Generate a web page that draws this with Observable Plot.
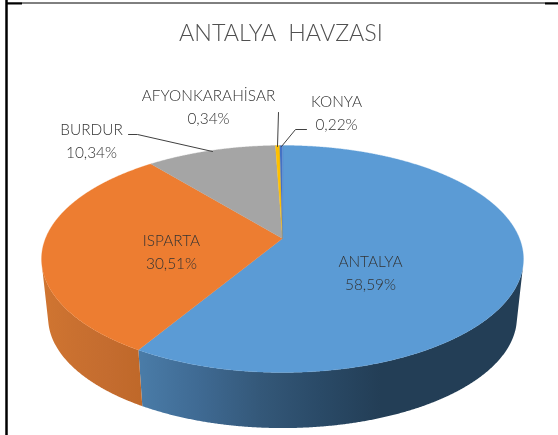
<!DOCTYPE html>
<html>
<head>
<meta charset="utf-8">
<style>html,body{margin:0;padding:0;background:#fff;overflow:hidden}svg{display:block;filter:blur(0.3px)}</style>
<script src="https://cdn.jsdelivr.net/npm/d3@7"></script>
<script src="https://cdn.jsdelivr.net/npm/@observablehq/plot@0.6"></script>
</head>
<body>
<script>
const chartTitle = "ANTALYA  HAVZASI";
const names = ["ANTALYA", "ISPARTA", "BURDUR", "AFYONKARAHİSAR", "KONYA"];
const shares = [58.59, 30.51, 10.34, 0.34, 0.22];
const shareLabels = ["58,59%", "30,51%", "10,34%", "0,34%", "0,22%"];
const topColors = ["#5b9bd5", "#ed7d31", "#a5a5a5", "#ffc000", "#4472c4"];
const labelX = [370, 171, 91, 208, 336];
const labelY = [262, 241, 130, 96, 102];
const lineGap = [22.5, 23, 23, 23, 23];
const leaders = [
  {name: "BURDUR", x: [128, 137, 212], y: [134, 134, 151]},
  {name: "AFYONKARAHİSAR", x: [278, 277], y: [112, 146]},
  {name: "KONYA", x: [306, 295, 281], y: [129, 129, 146]}
];

// perspective pie geometry
const cx = 282, cy = 238, W = 237, H = 109.8, k = 0.1806, vanishY = 2400, drop = 0.0274;
function topPoint(turn) {
  const u = Math.sin(2 * Math.PI * turn), v = Math.cos(2 * Math.PI * turn), s = 1 / (1 + k * v);
  return [cx + W * u * s, cy - H * v * s];
}
function lowPoint(turn) {
  const [x, y] = topPoint(turn);
  return [x + (cx - x) * drop, y + (vanishY - y) * drop];
}
// a wall point is visible when the extrusion runs outward from the rim
function facesViewer(turn) {
  const p = topPoint(turn), q = topPoint(turn + 0.0005), l = lowPoint(turn);
  return (q[0] - p[0]) * (l[1] - p[1]) - (q[1] - p[1]) * (l[0] - p[0]) < 0;
}
const total = d3.sum(shares);
const ends = Array.from(d3.cumsum(shares), d => d / total);
const starts = ends.map((d, i) => i ? ends[i - 1] : 0);

const wallGradients = [
  {id: "wall-blue", from: 138, to: 380, stops: ["#4a7ca8", "#3f6a93", "#345879", "#2a4a67", "#233e56"]},
  {id: "wall-orange", from: 42, to: 141, stops: ["#d07531", "#c97030", "#c46c2f", "#bf6829"]}
];
const wallFill = ["url(#wall-blue)", "url(#wall-orange)"];

const tops = [], walls = [];
names.forEach((name, i) => {
  const n = Math.max(2, Math.ceil((ends[i] - starts[i]) * 1440));
  const ts = d3.range(n + 1).map(j => starts[i] + (ends[i] - starts[i]) * j / n);
  tops.push({name, i, x: cx, y: cy});
  ts.forEach(t => { const [x, y] = topPoint(t); tops.push({name, i, x, y}); });
  if (i < 2) {
    const front = ts.filter(facesViewer);
    front.forEach(t => { const [x, y] = topPoint(t); walls.push({name, i, x, y}); });
    front.slice().reverse().forEach(t => { const [x, y] = lowPoint(t); walls.push({name, i, x, y}); });
  }
});
const labelRows = names.flatMap((name, i) => [
  {text: name, x: labelX[i], y: labelY[i]},
  {text: shareLabels[i], x: labelX[i], y: labelY[i] + lineGap[i]}
]);
const leaderRows = leaders.flatMap(l => l.x.map((x, j) => ({name: l.name, x, y: l.y[j]})));

const gradientDefs = (index, {x}) => {
  const defs = d3.create("svg:defs");
  wallGradients.forEach(g => {
    const lg = defs.append("linearGradient").attr("id", g.id)
      .attr("gradientUnits", "userSpaceOnUse")
      .attr("x1", x(g.from)).attr("x2", x(g.to)).attr("y1", 0).attr("y2", 0);
    g.stops.forEach((c, j) => lg.append("stop").attr("offset", j / (g.stops.length - 1)).attr("stop-color", c));
  });
  return defs.node();
};

const plot = Plot.plot({
  width: 558, height: 435,
  margin: 0,
  x: {domain: [0, 558], range: [0, 558], axis: null},
  y: {domain: [0, 435], range: [0, 435], axis: null},
  style: {background: "#fff", fontFamily: "Lato"},
  marks: [
    gradientDefs,
    Plot.line(walls, {x: "x", y: "y", z: "name", fill: d => wallFill[d.i], curve: "linear-closed", stroke: "none"}),
    Plot.line(tops, {x: "x", y: "y", z: "name", fill: d => topColors[d.i], stroke: d => topColors[d.i], strokeWidth: 0.3, curve: "linear-closed"}),
    Plot.line(leaderRows, {x: "x", y: "y", z: "name", stroke: "#404040", strokeWidth: 1}),
    Plot.text(labelRows, {x: "x", y: "y", text: "text", fontSize: 15.4, fill: "#333333", fontWeight: 300}),
    Plot.text([chartTitle], {x: [280.5], y: [33], fontSize: 23.3, fill: "#505050", fontWeight: 300}),
    Plot.ruleX([6], {y1: 0, y2: 435, stroke: "#000", strokeWidth: 2.5}),
    Plot.ruleY([2.5], {x1: 6, x2: 558, stroke: "#000", strokeWidth: 1}),
    Plot.ruleY([3], {x1: 6, x2: 22, stroke: "#000", strokeWidth: 2}),
    Plot.ruleY([3], {x1: 545, x2: 558, stroke: "#000", strokeWidth: 2})
  ]
});
document.body.appendChild(plot);
</script>
</body>
</html>
